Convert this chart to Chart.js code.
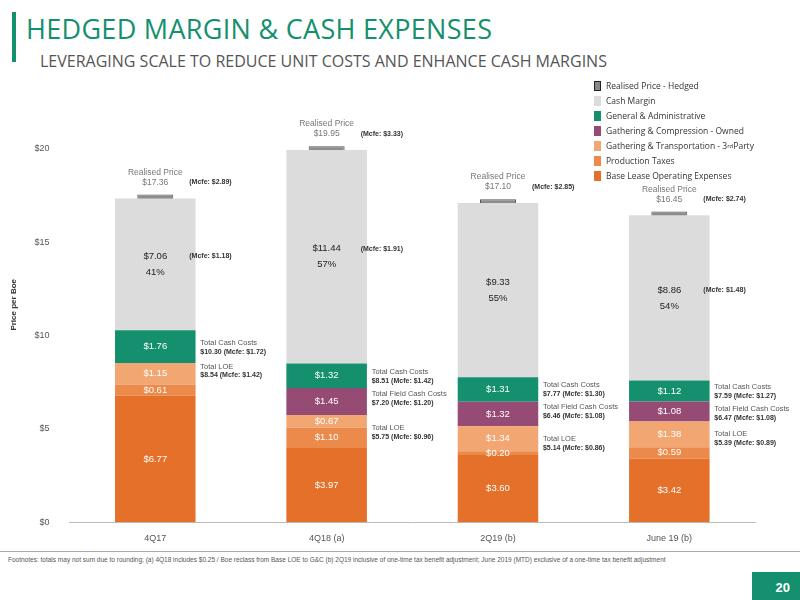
<!DOCTYPE html>
<html><head><meta charset="utf-8">
<script src="https://cdn.jsdelivr.net/npm/chart.js@4"></script>
<style>
body{margin:0;width:800px;height:600px;background:#fff;font-family:"Liberation Sans",Arial,sans-serif;position:relative;overflow:hidden}
#bar{position:absolute;left:12px;top:12px;width:4px;height:50px;background:#14906e}
#title{position:absolute;left:26px;top:10px;font-size:27px;color:#14906e;font-family:"Open Sans",sans-serif;letter-spacing:0.3px}
#sub{position:absolute;left:40px;top:50px;font-size:16px;color:#555;font-family:"Open Sans",sans-serif}
#wrap{position:absolute;left:0;top:70px;width:800px;height:477px}
#legend{position:absolute;left:594px;top:78px;font-family:"Open Sans",sans-serif;font-size:8.5px;color:#333}
#legend div{height:15px;display:flex;align-items:center}
#legend span{display:inline-block;width:7px;height:10px;margin-right:5px}
#foot{position:absolute;left:0;top:551px;width:800px;border-top:1px solid #aaa;font-size:6.5px;color:#555;padding:4px 8px;box-sizing:border-box}
#pg{position:absolute;left:752px;top:572px;width:48px;height:28px;background:#14906e;color:#fff;font-weight:bold;font-size:13px;text-align:right;padding:8px 10px 0 0;box-sizing:border-box}
</style></head><body>
<div id="bar"></div>
<div id="title">HEDGED MARGIN &amp; CASH EXPENSES</div>
<div id="sub">LEVERAGING SCALE TO REDUCE UNIT COSTS AND ENHANCE CASH MARGINS</div>
<div id="wrap"><canvas id="c"></canvas></div>
<div id="legend"></div>
<div id="foot">Footnotes: totals may not sum due to rounding; (a) 4Q18 includes $0.25 / Boe reclass from Base LOE to G&amp;C (b) 2Q19 inclusive of one-time tax benefit adjustment; June 2019 (MTD) exclusive of a one-time tax benefit adjustment</div>
<div id="pg">20</div>
<script>
const categories = ['4Q17', '4Q18 (a)', '2Q19 (b)', 'June 19 (b)'];
const baseLoe = [6.77, 3.97, 3.60, 3.42];
const prodTaxes = [0.61, 1.10, 0.20, 0.59];
const gathThird = [1.15, 0.67, 1.34, 1.38];
const gathOwned = [0, 1.45, 1.32, 1.08];
const gAndA = [1.76, 1.32, 1.31, 1.12];
const cashMargin = [7.06, 11.44, 9.33, 8.86];
const marginPct = ['41%', '57%', '55%', '54%'];
const realisedPrice = [17.36, 19.95, 17.10, 16.45];
const priceMcfe = ['(Mcfe: $2.89)', '(Mcfe: $3.33)', '(Mcfe: $2.85)', '(Mcfe: $2.74)'];
const marginMcfe = ['(Mcfe: $1.18)', '(Mcfe: $1.91)', '', '(Mcfe: $1.48)'];
const totalCash = ['$10.30 (Mcfe: $1.72)', '$8.51 (Mcfe: $1.42)', '$7.77 (Mcfe: $1.30)', '$7.59 (Mcfe: $1.27)'];
const totalField = ['', '$7.20 (Mcfe: $1.20)', '$6.46 (Mcfe: $1.08)', '$6.47 (Mcfe: $1.08)'];
const totalLoe = ['$8.54 (Mcfe: $1.42)', '$5.75 (Mcfe: $0.96)', '$5.14 (Mcfe: $0.86)', '$5.39 (Mcfe: $0.89)'];
const yTicks = [0, 5, 10, 15, 20];

const series = [
  {label: 'Base Lease Operating Expenses', data: baseLoe, color: '#e4702a', txt: '#fff'},
  {label: 'Production Taxes', data: prodTaxes, color: '#ec8a4c', txt: '#fff'},
  {label: 'Gathering & Transportation - 3rd Party', data: gathThird, color: '#f2a672', txt: '#fff'},
  {label: 'Gathering & Compression - Owned', data: gathOwned, color: '#954b74', txt: '#fff'},
  {label: 'General & Administrative', data: gAndA, color: '#14906e', txt: '#fff'},
  {label: 'Cash Margin', data: cashMargin, color: '#dcdcdc', txt: '#222'}
];

// legend, top to bottom
const legendItems = [['Realised Price - Hedged', '#888']].concat(series.slice().reverse().map(s => [s.label, s.color]));
document.getElementById('legend').innerHTML = legendItems.map((l, i) =>
  `<div><span style="background:${l[1]};${i === 0 ? 'border:1.5px solid #222;box-sizing:border-box' : ''}"></span>${l[0].replace('3rd', '3<sup style="font-size:6px">rd</sup>')}</div>`).join('');

const datasets = series.map(s => ({
  label: s.label, data: s.data, backgroundColor: s.color, stack: 'a',
  barPercentage: 0.47, categoryPercentage: 1
}));
datasets.push({
  label: 'Realised Price - Hedged', stack: 'p', grouped: false,
  data: realisedPrice.map(v => [v - 0.25, v + 0.2]),
  backgroundColor: '#8c8c8c', borderColor: '#555', borderWidth: 1,
  barPercentage: 0.21, categoryPercentage: 1
});

const labelsPlugin = {
  id: 'labels',
  afterDatasetsDraw(chart) {
    const ctx = chart.ctx, x = chart.scales.x, y = chart.scales.y;
    ctx.save();
    ctx.textBaseline = 'middle';
    categories.forEach((c, i) => {
      const cx = x.getPixelForValue(i);
      let base = 0;
      series.forEach((s, k) => {
        const v = s.data[i];
        if (v > 0) {
          const mid = y.getPixelForValue(base + v / 2);
          ctx.fillStyle = s.txt; ctx.textAlign = 'center';
          ctx.font = '9.5px "Liberation Sans"';
          if (k === 5) {
            ctx.fillText('$' + v.toFixed(2), cx, mid - 8);
            ctx.fillText(marginPct[i], cx, mid + 8);
            if (marginMcfe[i]) { ctx.textAlign = 'left'; ctx.font = 'bold 7px "Liberation Sans"'; ctx.fillStyle = '#333'; ctx.fillText(marginMcfe[i], cx + 34, mid - 8); }
          } else ctx.fillText('$' + v.toFixed(2), cx, mid);
        }
        base += v;
      });
      const py = y.getPixelForValue(realisedPrice[i]);
      ctx.textAlign = 'center'; ctx.fillStyle = '#777'; ctx.font = '8.5px "Liberation Sans"';
      ctx.fillText('Realised Price', cx, py - 26);
      ctx.fillText('$' + realisedPrice[i].toFixed(2), cx, py - 16);
      ctx.textAlign = 'left'; ctx.fillStyle = '#333'; ctx.font = 'bold 7px "Liberation Sans"';
      ctx.fillText(priceMcfe[i], cx + 34, py - 16);
      // side notes
      const lx = cx + 45;
      const loeTop = baseLoe[i] + prodTaxes[i] + gathThird[i];
      const fieldTop = loeTop + gathOwned[i];
      const cashTop = fieldTop + gAndA[i];
      const notes = [['Total Cash Costs', totalCash[i], cashTop - gAndA[i] / 2]];
      if (totalField[i]) notes.push(['Total Field Cash Costs', totalField[i], fieldTop - 0.5]);
      notes.push(['Total LOE', totalLoe[i], loeTop - (totalField[i] ? 0.9 : 0.4)]);
      let last = -1e9;
      notes.forEach(n => {
        let ty = y.getPixelForValue(n[2]) - 4;
        if (ty < last + 22) ty = last + 22;
        last = ty;
        ctx.fillStyle = '#555'; ctx.font = '7.5px "Liberation Sans"'; ctx.fillText(n[0], lx, ty);
        ctx.fillStyle = '#333'; ctx.font = 'bold 7px "Liberation Sans"'; ctx.fillText(n[1], lx, ty + 9);
      });
    });
    ctx.restore();
  }
};

new Chart(document.getElementById('c'), {
  type: 'bar',
  data: {labels: categories, datasets: datasets},
  options: {
    responsive: true, maintainAspectRatio: false, animation: false,
    layout: {padding: {left: 5, right: 45, top: 10, bottom: 0}},
    plugins: {legend: {display: false}, tooltip: {enabled: false}},
    scales: {
      x: {stacked: true, grid: {display: false}, border: {color: '#bbb'},
          ticks: {color: '#555', font: {size: 9, family: 'Liberation Sans'}}},
      y: {stacked: true, min: 0, max: 23.3, grid: {display: false}, border: {display: false},
          afterBuildTicks: ax => { ax.ticks = yTicks.map(v => ({value: v})); },
          ticks: {color: '#555', font: {size: 9, family: 'Liberation Sans'}, callback: v => '$' + v, padding: 12},
          title: {display: true, text: 'Price per Boe', color: '#333', font: {size: 8, weight: 'bold', family: 'Liberation Sans'}}}
    }
  },
  plugins: [labelsPlugin]
});
</script>
</body></html>
